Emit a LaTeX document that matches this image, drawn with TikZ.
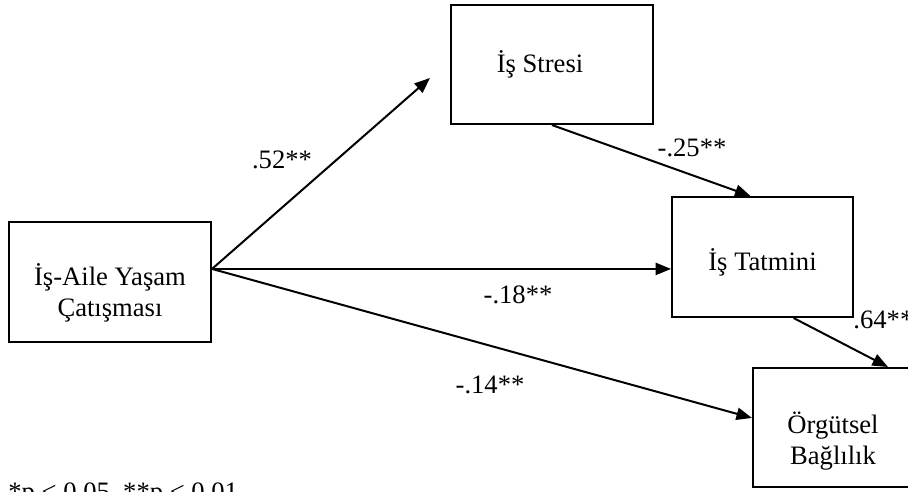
\documentclass[tikz,border=0pt]{standalone}
\usepackage{fontspec}
\setmainfont{Liberation Serif}
\usetikzlibrary{arrows.meta,positioning,calc}

\begin{document}
\begin{tikzpicture}[
  x=0.451pt, y=-0.451pt,
  box/.style={rectangle, draw, line width=0.9pt, inner sep=0pt},
  boxtext/.style={align=center, inner sep=0pt, font=\fontsize{12}{14}\selectfont},
  coef/.style={font=\fontsize{12}{14}\selectfont, inner sep=0pt},
  arr/.style={-{Triangle[length=7pt,width=5.5pt]}, line width=0.9pt}
]
\useasboundingbox (0,0) rectangle (908,491);

% Boxes
\node[box, minimum width=91.1pt, minimum height=54.1pt] (wlc)    at (110,282)   {};
\node[box, minimum width=91.1pt, minimum height=53.7pt] (stres)  at (552,64.5)  {};
\node[box, minimum width=81.6pt, minimum height=54.1pt] (tatmin) at (762.5,257) {};
\node[box, minimum width=72.2pt, minimum height=53.7pt] (bag)    at (833,427.5) {};
\node[boxtext] (wlc-t)    at ([yshift=-5pt]wlc.center)   {İş-Aile Yaşam\\Çatışması};
\node[boxtext] (stres-t)  at ([xshift=-5.4pt]stres.center) {İş Stresi};
\node[boxtext] (tatmin-t) at ([yshift=-2.2pt]tatmin.center) {İş Tatmini};
\node[boxtext] (bag-t)    at ([yshift=-6pt]bag.center)   {Örgütsel\\Bağlılık};

% Arrows
\coordinate (src)  at ([yshift=5.9pt]wlc.east);
\coordinate (stip) at (430,78);
\draw[arr] (src) -- (stip);
\draw[arr] (src) -- (src -| tatmin.west);
\draw[arr] (src) -- ([yshift=4.3pt]bag.west);
\draw[arr] (stres.south) -- ([xshift=-5.4pt]tatmin.north);
\draw[arr] ([xshift=14pt]tatmin.south) -- ([xshift=24.8pt]bag.north);

% Coefficients
\node[coef] (c52) at (282,160) {.52**};
\node[coef] (c25) at (692,148) {-.25**};
\node[coef] (c18) at (518,295) {-.18**};
\node[coef] (c14) at (490,385) {-.14**};
\node[coef, anchor=west] (c64) at (853,320) {.64**};
\node[coef, anchor=base west] (note) at (8,500) {*p < 0.05, **p < 0.01};
\end{tikzpicture}
\end{document}
